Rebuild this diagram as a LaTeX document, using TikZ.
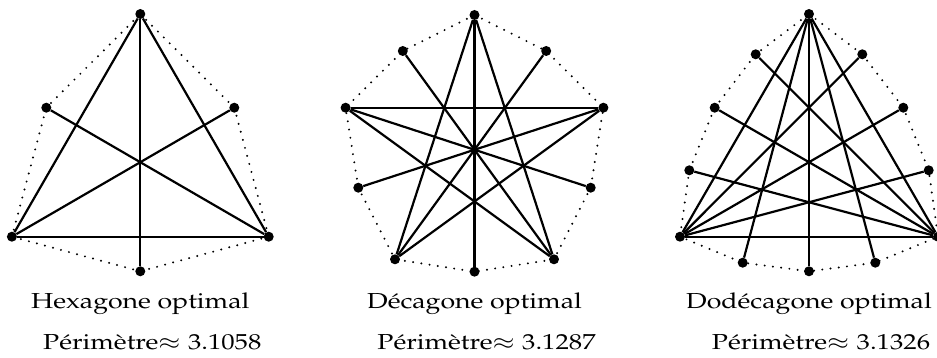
\documentclass[tikz,border=0pt]{standalone}
\usepackage[T1]{fontenc}
\usepackage{mathpazo}
\usepackage{amsmath,amssymb}
\usetikzlibrary{positioning}

\begin{document}
\begin{tikzpicture}[x=1pt, y=-1pt,
    vertex/.style={circle, fill=black, inner sep=0pt, minimum size=10pt},
    diam/.style={draw, line width=2.2pt},
    rim/.style={draw, line width=2.2pt, line cap=round, dash pattern=on 0pt off 8.3pt},
    caption/.style={anchor=base, font=\fontsize{21.7}{26}\selectfont, inner sep=0pt}
    ]
    \useasboundingbox (0,0) rectangle (937,358);

    % Hexagone
    \node [vertex] (h1) at (140.3,14) {};
    \node [vertex] (h2) at (234.3,107.7) {};
    \node [vertex] (h3) at (268.7,236.7) {};
    \node [vertex] (h4) at (140.3,271.3) {};
    \node [vertex] (h5) at (11.9,236.7) {};
    \node [vertex] (h6) at (46.3,107.7) {};
    \draw[rim] (h1.center) -- (h2.center) -- (h3.center) -- (h4.center) -- (h5.center) -- (h6.center) -- cycle;
    \draw[diam] (h1) -- (h3);
    \draw[diam] (h1) -- (h4);
    \draw[diam] (h1) -- (h5);
    \draw[diam] (h3) -- (h5);
    \draw[diam] (h2) -- (h5);
    \draw[diam] (h6) -- (h3);

    % Decagone
    \node [vertex] (d1) at (474.5,15) {};
    \node [vertex] (d2) at (546.2,51) {};
    \node [vertex] (d3) at (603.4,107.7) {};
    \node [vertex] (d4) at (590.7,187.7) {};
    \node [vertex] (d5) at (554,259.3) {};
    \node [vertex] (d6) at (474.5,271.7) {};
    \node [vertex] (d7) at (395,259.3) {};
    \node [vertex] (d8) at (358.3,187.7) {};
    \node [vertex] (d9) at (345.6,107.7) {};
    \node [vertex] (d10) at (402.8,51) {};
    \draw[rim] (d1.center) -- (d2.center) -- (d3.center) -- (d4.center) -- (d5.center) -- (d6.center)
        -- (d7.center) -- (d8.center) -- (d9.center) -- (d10.center) -- cycle;
    \draw[diam] (d1) -- (d5);
    \draw[diam] (d1) -- (d6);
    \draw[diam] (d1) -- (d7);
    \draw[diam] (d9) -- (d3);
    \draw[diam] (d9) -- (d4);
    \draw[diam] (d9) -- (d5);
    \draw[diam] (d3) -- (d8);
    \draw[diam] (d3) -- (d7);
    \draw[diam] (d7) -- (d2);
    \draw[diam] (d5) -- (d10);

    % Dodecagone
    \node [vertex] (g1) at (809,14) {};
    \node [vertex] (g2) at (862.3,54.3) {};
    \node [vertex] (g3) at (903.3,107.7) {};
    \node [vertex] (g4) at (928.7,170.3) {};
    \node [vertex] (g5) at (938,236.7) {};
    \node [vertex] (g6) at (875.3,262.7) {};
    \node [vertex] (g7) at (809,271.3) {};
    \node [vertex] (g8) at (742.7,262.7) {};
    \node [vertex] (g9) at (680,236.7) {};
    \node [vertex] (g10) at (689.3,170.3) {};
    \node [vertex] (g11) at (714.7,107.7) {};
    \node [vertex] (g12) at (755.7,54.3) {};
    \draw[rim] (g1.center) -- (g2.center) -- (g3.center) -- (g4.center) -- (g5.center) -- (g6.center)
        -- (g7.center) -- (g8.center) -- (g9.center) -- (g10.center) -- (g11.center) -- (g12.center) -- cycle;
    \draw[diam] (g1) -- (g5);
    \draw[diam] (g1) -- (g6);
    \draw[diam] (g1) -- (g7);
    \draw[diam] (g1) -- (g8);
    \draw[diam] (g1) -- (g9);
    \draw[diam] (g9) -- (g5);
    \draw[diam] (g9) -- (g2);
    \draw[diam] (g9) -- (g3);
    \draw[diam] (g9) -- (g4);
    \draw[diam] (g5) -- (g12);
    \draw[diam] (g5) -- (g11);
    \draw[diam] (g5) -- (g10);

    % Legendes
    \node [caption] (th) at (140.3,308.3) {\scalebox{1.23}[1]{Hexagone optimal}};
    \node [caption] (ph) at (152.3,349) {\scalebox{1.23}[1]{P\'erim\`etre$\approx 3.1058$}};
    \node [caption] (td) at (474.5,308.3) {\scalebox{1.23}[1]{D\'ecagone optimal}};
    \node [caption] (pd) at (486.5,349) {\scalebox{1.23}[1]{P\'erim\`etre$\approx 3.1287$}};
    \node [caption] (tg) at (809,308.3) {\scalebox{1.23}[1]{Dod\'ecagone optimal}};
    \node [caption] (pg) at (821,349) {\scalebox{1.23}[1]{P\'erim\`etre$\approx 3.1326$}};
\end{tikzpicture}
\end{document}
